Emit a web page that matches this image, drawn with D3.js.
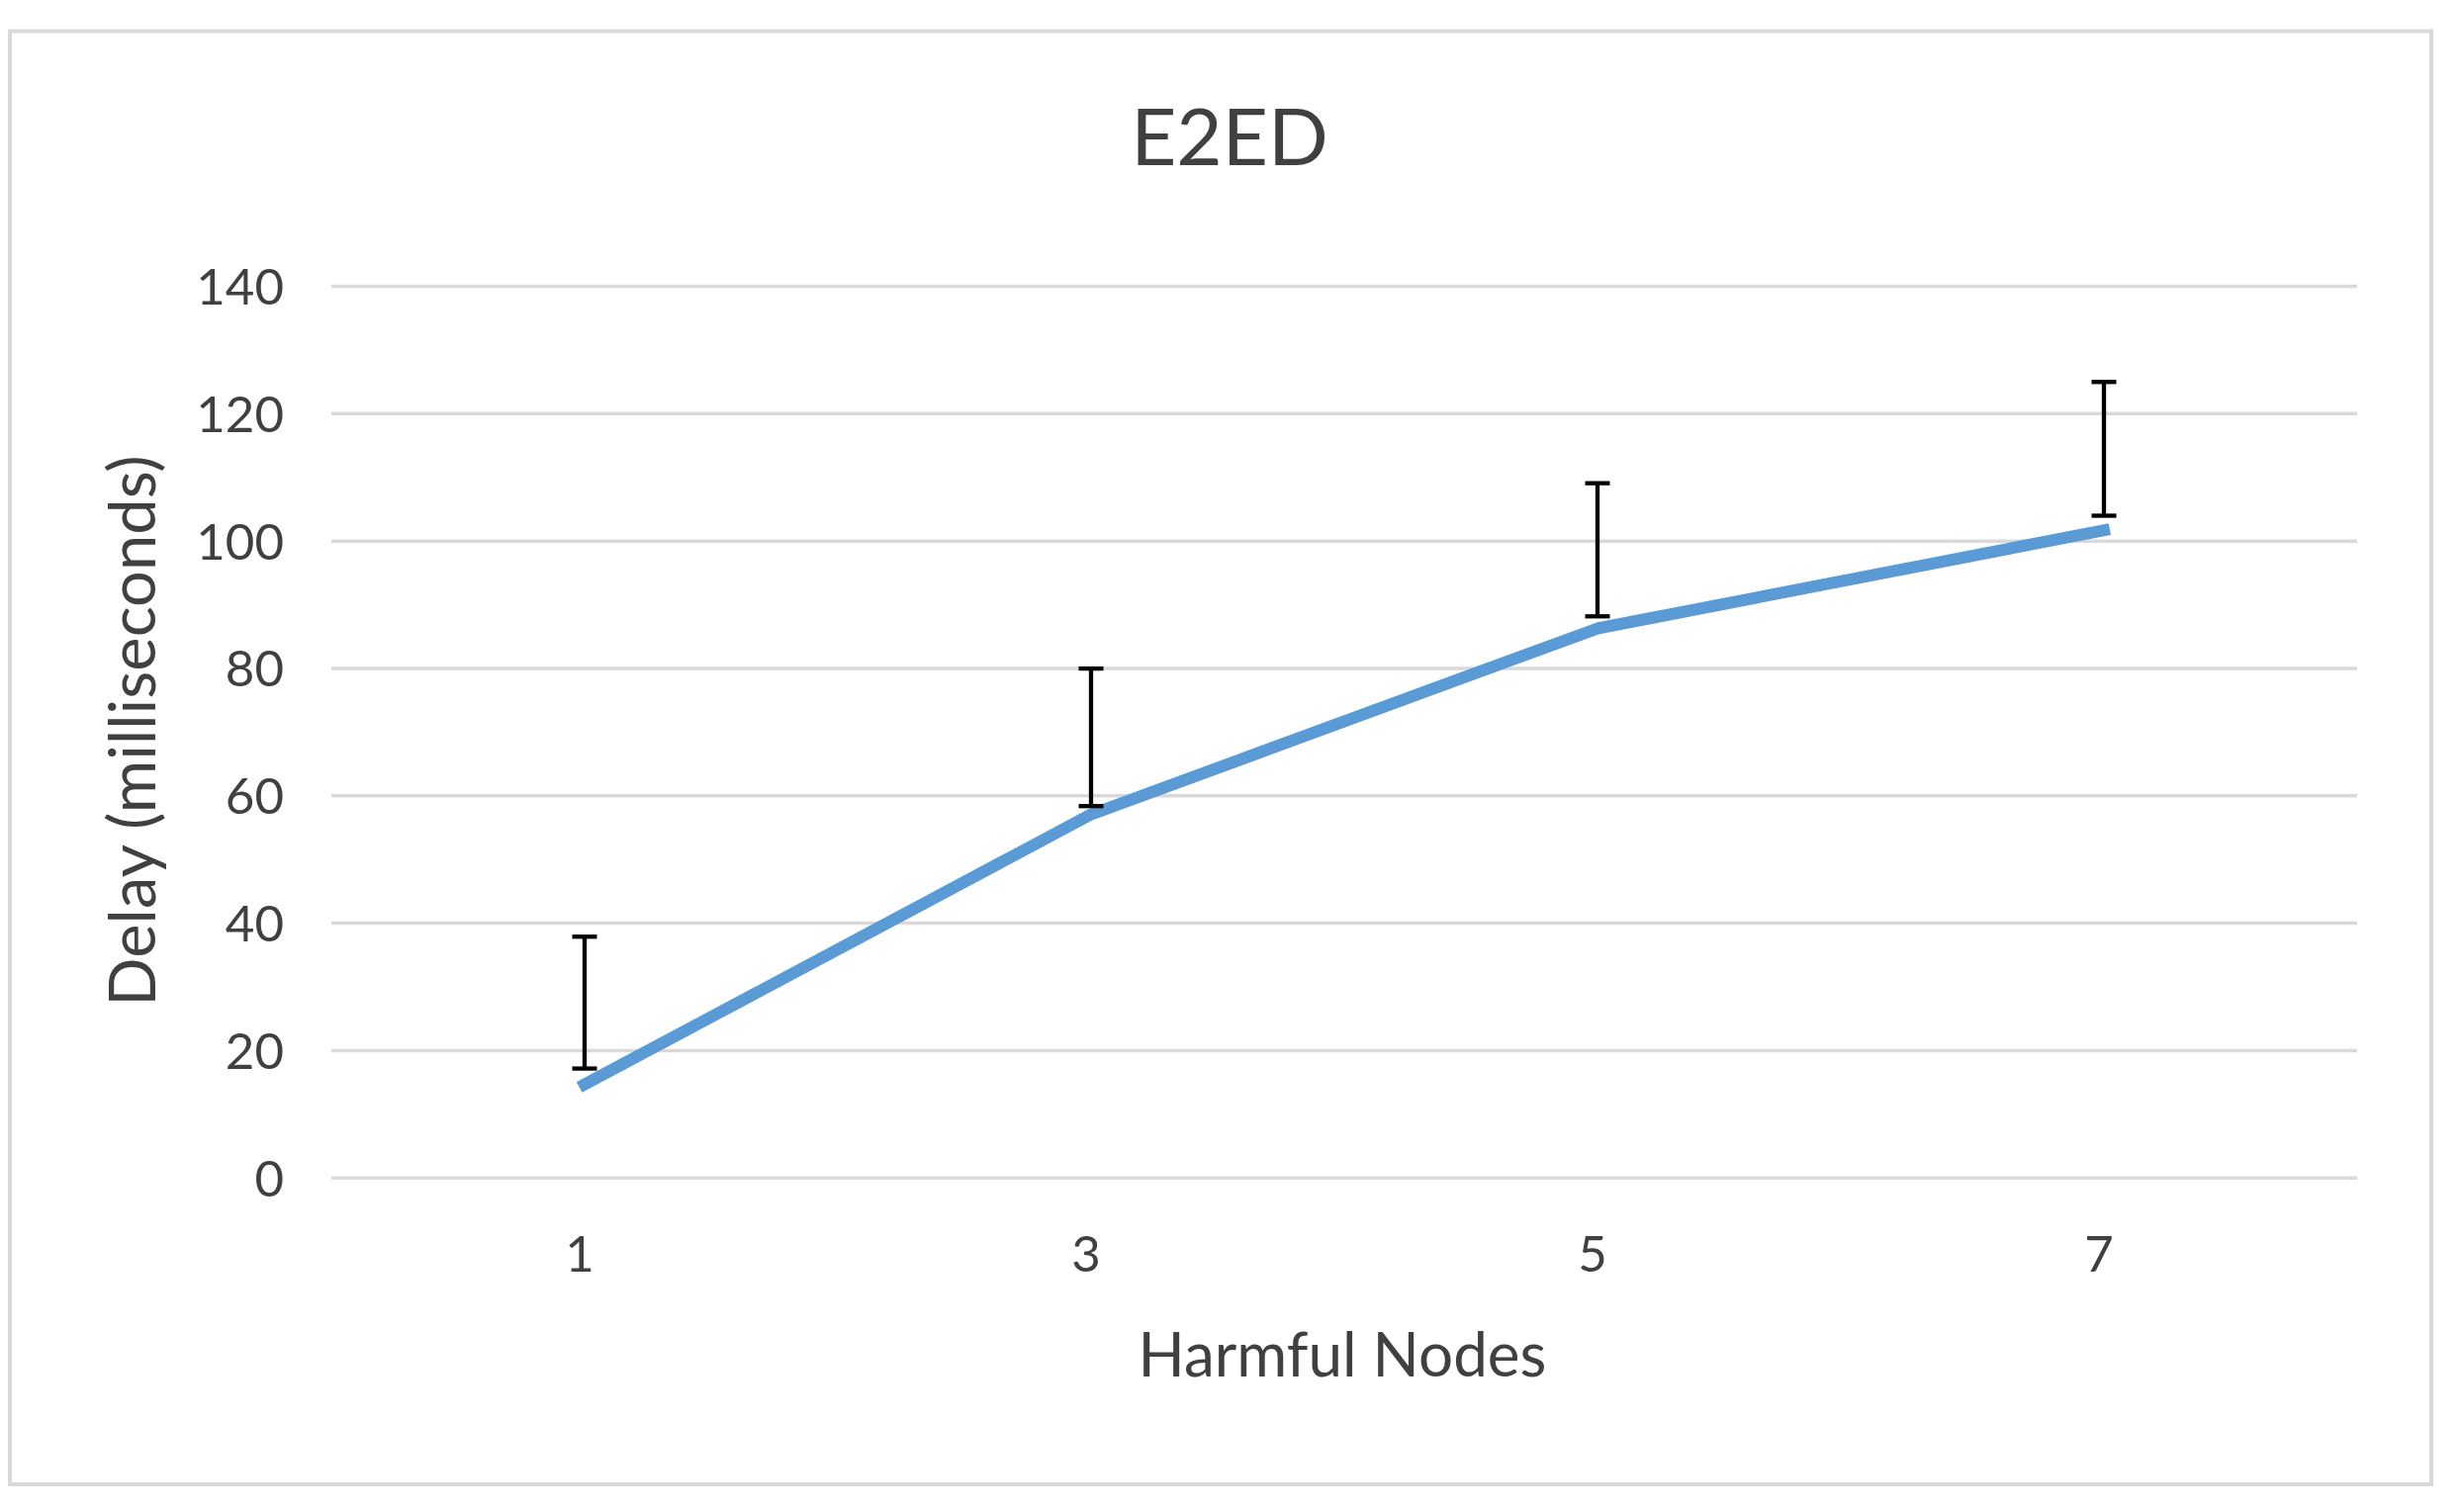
<!DOCTYPE html>
<html>
<head>
<meta charset="utf-8">
<script src="https://cdn.jsdelivr.net/npm/d3@7"></script>
<style>
  html, body { margin: 0; padding: 0; background: #ffffff; }
  svg { display: block; }
  text { font-family: Lato, "Open Sans", sans-serif; }
</style>
</head>
<body>
<svg id="chart" width="2491" height="1526"></svg>
<script>
// ---- data ----
const categories = ["1", "3", "5", "7"];
const delayValues = [14.6, 57.0, 86.2, 101.6];
const errorLow = [17.1, 58.3, 88.1, 103.9];
const errorHigh = [37.8, 79.9, 109.0, 124.9];
const yTicks = [0, 20, 40, 60, 80, 100, 120, 140];
const titleText = "E2ED";
const xTitle = "Harmful Nodes";
const yTitle = "Delay (milliseconds)";

// ---- layout ----
const W = 2491, H = 1526;
const plot = { left: 335, right: 2383, top: 289, bottom: 1190.7 };
const textColor = "#404040";
const gridColor = "#d9d9d9";
const lineColor = "#5b9bd5";

const svg = d3.select("#chart");

// outer frame
svg.append("rect")
  .attr("x", 10).attr("y", 31.5)
  .attr("width", 2448).attr("height", 1469.5)
  .attr("fill", "#ffffff")
  .attr("stroke", gridColor)
  .attr("stroke-width", 4);

const x = d3.scaleBand().domain(categories).range([plot.left, plot.right]);
const y = d3.scaleLinear().domain([0, 140]).range([plot.bottom, plot.top]);
const cx = c => x(c) + x.bandwidth() / 2;

// gridlines via axis
const yAxis = d3.axisLeft(y)
  .tickValues(yTicks)
  .tickSize(-(plot.right - plot.left))
  .tickPadding(48)
  .tickFormat(d3.format("d"));

const gy = svg.append("g")
  .attr("transform", `translate(${plot.left},0)`)
  .call(yAxis);
gy.select(".domain").remove();
gy.selectAll(".tick line")
  .attr("stroke", gridColor)
  .attr("stroke-width", 3.5);
gy.selectAll(".tick text")
  .attr("fill", textColor)
  .attr("font-size", 51)
  .attr("dy", "0.36em");

// x axis labels
const xAxis = d3.axisBottom(x).tickSize(0).tickPadding(0);
const gx = svg.append("g")
  .attr("transform", `translate(0,${plot.bottom})`)
  .call(xAxis);
gx.select(".domain").remove();
gx.selectAll(".tick text")
  .attr("fill", textColor)
  .attr("font-size", 51)
  .attr("dy", 0)
  .attr("y", 95)
  .attr("dx", -5);

// line
const pts = categories.map((c, i) => ({ c, v: delayValues[i] }));
const line = d3.line().x(d => cx(d.c)).y(d => y(d.v));
svg.append("path")
  .datum(pts)
  .attr("d", line)
  .attr("fill", "none")
  .attr("stroke", lineColor)
  .attr("stroke-width", 12)
  .attr("stroke-linejoin", "round")
  .attr("stroke-linecap", "square");

// error bars
const errs = categories.map((c, i) => ({ c, lo: errorLow[i], hi: errorHigh[i] }));
const eg = svg.append("g").attr("stroke", "#000").attr("stroke-width", 4.3);
eg.selectAll("line.v").data(errs).join("line")
  .attr("class", "v")
  .attr("x1", d => cx(d.c)).attr("x2", d => cx(d.c))
  .attr("y1", d => y(d.lo)).attr("y2", d => y(d.hi));
eg.selectAll("line.ct").data(errs).join("line")
  .attr("class", "ct")
  .attr("x1", d => cx(d.c) - 12.5).attr("x2", d => cx(d.c) + 12.5)
  .attr("y1", d => y(d.hi)).attr("y2", d => y(d.hi));
eg.selectAll("line.cb").data(errs).join("line")
  .attr("class", "cb")
  .attr("x1", d => cx(d.c) - 12.5).attr("x2", d => cx(d.c) + 12.5)
  .attr("y1", d => y(d.lo)).attr("y2", d => y(d.lo));

// title
svg.append("text")
  .attr("x", 1243).attr("y", 167)
  .attr("text-anchor", "middle")
  .attr("fill", textColor)
  .attr("font-size", 80)
  .text(titleText);

// x title
svg.append("text")
  .attr("x", 1357).attr("y", 1392)
  .attr("text-anchor", "middle")
  .attr("fill", textColor)
  .attr("font-size", 62)
  .text(xTitle);

// y title
svg.append("text")
  .attr("transform", "translate(157,739) rotate(-90)")
  .attr("text-anchor", "middle")
  .attr("fill", textColor)
  .attr("font-size", 65)
  .text(yTitle);
</script>
</body>
</html>
